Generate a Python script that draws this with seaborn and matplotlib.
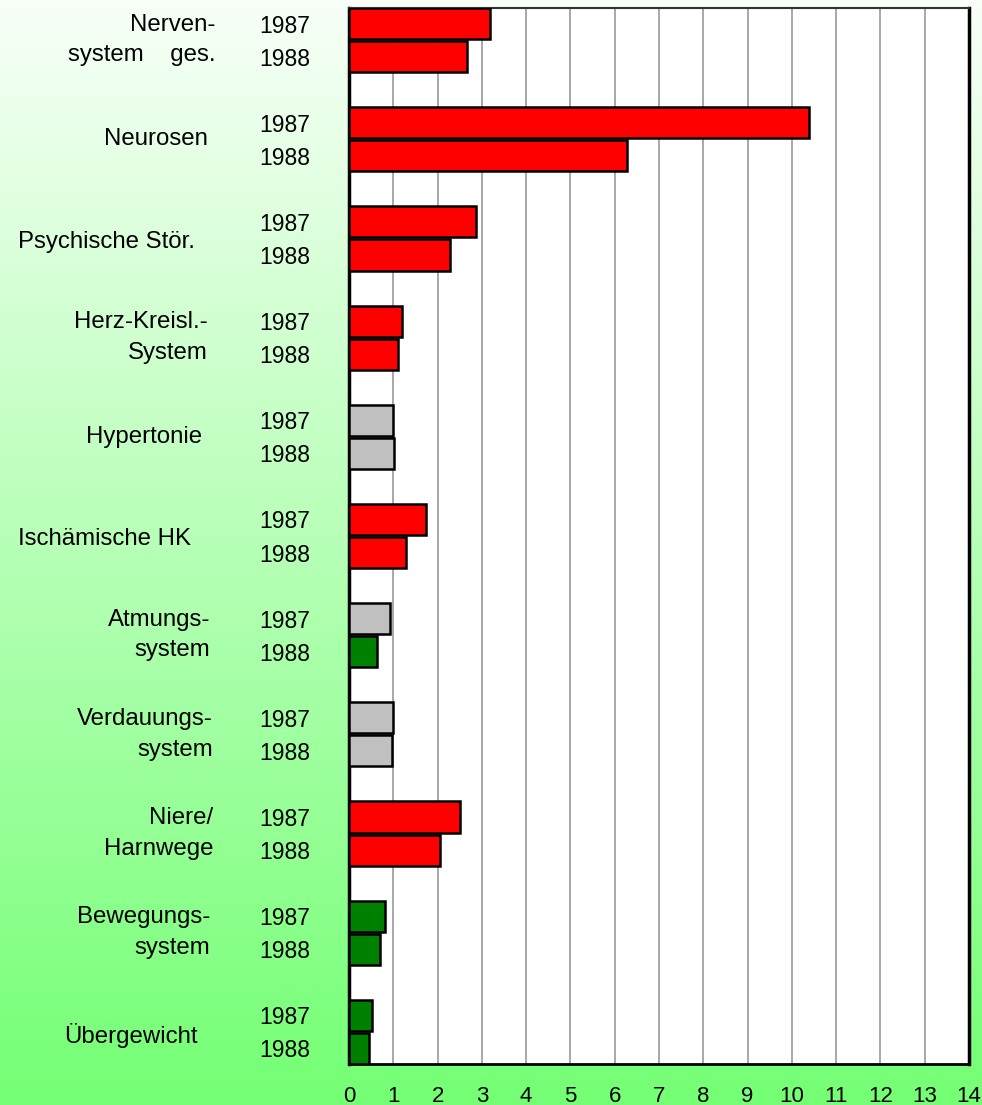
import numpy as np
import pandas as pd
import matplotlib
matplotlib.use("Agg")
import matplotlib.pyplot as plt
import matplotlib.transforms as mtransforms
from matplotlib import font_manager
import seaborn as sns

# ---- data ----
categories = ["Nerven-\nsystem    ges.", "Neurosen", "Psychische Stör.", "Herz-Kreisl.-\nSystem",
              "Hypertonie", "Ischämische HK", "Atmungs-\nsystem", "Verdauungs-\nsystem",
              "Niere/\nHarnwege", "Bewegungs-\nsystem", "Übergewicht"]
values_1987 = [3.18, 10.39, 2.87, 1.20, 0.99, 1.74, 0.93, 0.99, 2.51, 0.81, 0.52]
values_1988 = [2.66, 6.28, 2.28, 1.11, 1.02, 1.29, 0.63, 0.97, 2.05, 0.70, 0.45]
status_1987 = ["hoch", "hoch", "hoch", "hoch", "gleich", "hoch", "gleich", "gleich", "hoch", "niedrig", "niedrig"]
status_1988 = ["hoch", "hoch", "hoch", "hoch", "gleich", "hoch", "niedrig", "gleich", "hoch", "niedrig", "niedrig"]
years = ["1987", "1988"]
xticks = list(range(0, 15))

palette = {"hoch": "#FF0000", "gleich": "#C0C0C0", "niedrig": "#008000"}

rows = []
for i, cat in enumerate(categories):
    for j, (vals, st) in enumerate([(values_1987, status_1987), (values_1988, status_1988)]):
        rows.append({"pos": 3 * i + j, "value": vals[i], "status": st[i], "year": years[j], "cat": cat})
df = pd.DataFrame(rows)

# ---- figure ----
sns.set_theme(style="white")
avail = {f.name for f in font_manager.fontManager.ttflist}
main_font = "Liberation Sans" if "Liberation Sans" in avail else "DejaVu Sans"
plt.rcParams["font.family"] = [main_font, "DejaVu Sans"]
plt.rcParams["text.color"] = "black"
plt.rcParams["xtick.color"] = "black"
plt.rcParams["ytick.color"] = "black"

W, H = 982, 1105
fig = plt.figure(figsize=(W / 100, H / 100), dpi=100)

# gradient background
bg = fig.add_axes([0, 0, 1, 1], zorder=-10)
top = np.array([248, 255, 248]) / 255
bot = np.array([116, 255, 116]) / 255
t = np.linspace(0, 1, 256)[:, None]
grad = top[None, :] * (1 - t) + bot[None, :] * t
bg.imshow(grad[:, None, :], aspect="auto", extent=[0, 1, 0, 1])
bg.axis("off")

ax = fig.add_axes([349 / W, 1 - 1064 / H, (969 - 349) / W, (1064 - 8) / H])
ax.set_facecolor("white")

sns.barplot(data=df, x="value", y="pos", hue="status", palette=palette, orient="h",
            native_scale=True, dodge=False, width=0.94, ax=ax, legend=False,
            edgecolor="black", linewidth=1.8, saturation=1, zorder=3)

ax.set_xlim(0, 14)
ax.set_ylim(31.47, -0.47)
ax.set_xticks(xticks)
ax.set_xticklabels([str(v) for v in xticks], fontsize=16, color="black")
ax.tick_params(axis="x", length=0, pad=16)
ax.grid(axis="x", color="#999999", linewidth=1.2, zorder=0)
ax.grid(axis="y", visible=False)
ax.set_axisbelow(True)

ax.set_yticks(df["pos"].tolist())
ax.set_yticklabels(df["year"].tolist(), fontsize=16.5, color="black")
ax.tick_params(axis="y", length=0, pad=28)
ax.set_xlabel("")
ax.set_ylabel("")

for side in ["left", "right", "bottom", "top"]:
    ax.spines[side].set_visible(True)
    ax.spines[side].set_color("black")
ax.spines["left"].set_linewidth(2.5)
ax.spines["right"].set_linewidth(2.5)
ax.spines["bottom"].set_linewidth(2.0)
ax.spines["top"].set_linewidth(1.5)
ax.spines["top"].set_color("#333333")

# category labels
trans = mtransforms.blended_transform_factory(fig.transFigure, ax.transData)
label_right = [215, 208, None, 208, 202, None, 210, 213, 213, 210, None]
label_left = [None, None, 18, None, None, 18, None, None, None, None, 64]
for i, cat in enumerate(categories):
    yc = 3 * i + 0.5
    if label_right[i] is not None:
        ax.text(label_right[i] / W, yc, cat, transform=trans, ha="right", va="center",
                fontsize=17.3, linespacing=1.5, color="black")
    else:
        ax.text(label_left[i] / W, yc + 0.1, cat, transform=trans, ha="left", va="center",
                fontsize=17.3, color="black")

fig.savefig("out.png", dpi=100)
